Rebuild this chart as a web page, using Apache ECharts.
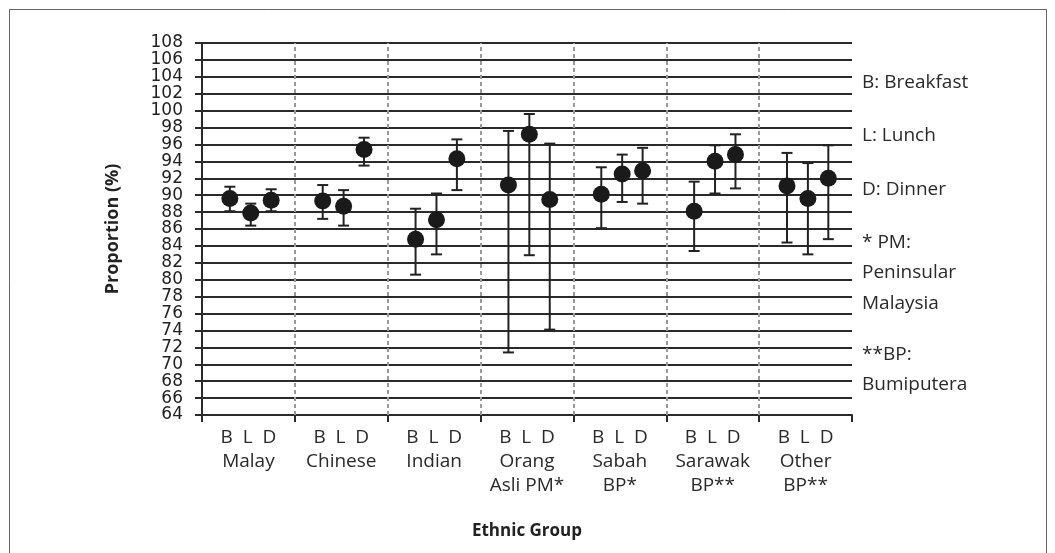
<!DOCTYPE html>
<html>
<head>
<meta charset="utf-8">
<style>
  html, body { margin: 0; padding: 0; background: #fff; }
  #chart { width: 1055px; height: 553px; }
</style>
<script src="https://cdn.jsdelivr.net/npm/echarts@6/dist/echarts.min.js"></script>
</head>
<body>
<div id="chart"></div>
<script>
var groups = ['Malay', 'Chinese', 'Indian', 'Orang\nAsli PM*', 'Sabah\nBP*', 'Sarawak\nBP**', 'Other\nBP**'];

var breakfast = [89.6, 89.3, 84.8, 91.2, 90.1, 88.1, 91.1];
var breakfastLow = [88.1, 87.2, 80.6, 71.4, 86.1, 83.4, 84.4];
var breakfastHigh = [91.0, 91.2, 88.4, 97.6, 93.3, 91.6, 95.0];

var lunch = [87.9, 88.7, 87.1, 97.2, 92.5, 94.0, 89.6];
var lunchLow = [86.4, 86.4, 83.0, 82.9, 89.2, 90.2, 83.0];
var lunchHigh = [89.0, 90.6, 90.2, 99.6, 94.8, 95.9, 93.8];

var dinner = [89.4, 95.4, 94.3, 89.5, 92.9, 94.8, 92.0];
var dinnerLow = [88.1, 93.5, 90.6, 74.1, 89.0, 90.8, 84.8];
var dinnerHigh = [90.7, 96.8, 96.6, 96.1, 95.6, 97.2, 95.9];

var notes = ['B: Breakfast', 'L: Lunch', 'D: Dinner', '* PM:', 'Peninsular', 'Malaysia', '**BP:', 'Bumiputera'];

var dom = document.getElementById('chart');
var myChart = echarts.init(dom, null, { renderer: 'canvas' });

// position of B, L, D inside each group (group width = 1)
var offsets = [0.30, 0.525, 0.745];
var meals = [
  [breakfast, breakfastLow, breakfastHigh],
  [lunch, lunchLow, lunchHigh],
  [dinner, dinnerLow, dinnerHigh]
];

var dots = [];
var bars = [];
meals.forEach(function (m, k) {
  groups.forEach(function (g, i) {
    dots.push([i + offsets[k], m[0][i]]);
    bars.push([i + offsets[k], m[1][i], m[2][i]]);
  });
});

function renderBar(params, api) {
  var x = api.value(0);
  var lo = api.coord([x, api.value(1)]);
  var hi = api.coord([x, api.value(2)]);
  var w = 5.5;
  var st = { stroke: '#222', lineWidth: 2 };
  return {
    type: 'group',
    children: [
      { type: 'line', shape: { x1: lo[0], y1: lo[1], x2: hi[0], y2: hi[1] }, style: st },
      { type: 'line', shape: { x1: lo[0] - w, y1: lo[1], x2: lo[0] + w, y2: lo[1] }, style: st },
      { type: 'line', shape: { x1: hi[0] - w, y1: hi[1], x2: hi[0] + w, y2: hi[1] }, style: st }
    ]
  };
}

// legend notes on the right
var noteY = [83, 136, 190, 243, 273, 304, 355, 385];
var noteGraphics = notes.map(function (t, i) {
  return {
    type: 'text',
    x: 862,
    y: noteY[i],
    style: { text: t, font: '19px "Open Sans"', fill: '#2a2a2a', verticalAlign: 'middle' }
  };
});
noteGraphics.push({
  type: 'rect',
  shape: { x: 9.5, y: 9.5, width: 1037, height: 570 },
  style: { fill: 'none', stroke: '#666', lineWidth: 1 },
  silent: true
});

var option = {
  animation: false,
  backgroundColor: '#fff',
  grid: { left: 202, right: 203, top: 43, bottom: 138 },
  xAxis: [
    {
      type: 'value',
      min: 0,
      max: 7,
      interval: 1,
      axisLine: { show: true, lineStyle: { color: '#2a2a2a', width: 2 } },
      axisTick: { show: true, length: 7, lineStyle: { color: '#2a2a2a', width: 2 } },
      axisLabel: { show: false },
      splitLine: { show: false },
      name: 'Ethnic Group',
      nameLocation: 'middle',
      nameGap: 108,
      nameTextStyle: { fontFamily: 'Open Sans', fontWeight: 'bold', fontSize: 17, color: '#222' }
    },
    {
      type: 'category',
      position: 'bottom',
      data: groups,
      axisLine: { show: false },
      axisTick: { show: false },
      axisLabel: {
        margin: 11,
        interval: 0,
        fontFamily: 'Open Sans',
        fontSize: 19,
        color: '#2a2a2a',
        lineHeight: 24,
        formatter: function (v) {
          return 'B  L  D\n' + v;
        }
      }
    }
  ],
  yAxis: {
    type: 'value',
    min: 64,
    max: 108,
    interval: 2,
    axisLine: { show: true, lineStyle: { color: '#2a2a2a', width: 2 } },
    axisTick: { show: true, length: 7, lineStyle: { color: '#2a2a2a', width: 2 } },
    axisLabel: {
      margin: 19,
      fontFamily: 'DejaVu Sans',
      fontSize: 17,
      color: '#222'
    },
    splitLine: { show: true, lineStyle: { color: '#2a2a2a', width: 2 } },
    name: 'Proportion (%)',
    nameLocation: 'middle',
    nameGap: 80,
    nameTextStyle: { fontFamily: 'Open Sans', fontWeight: 'bold', fontSize: 18, color: '#222' }
  },
  graphic: noteGraphics,
  series: [
    {
      type: 'custom',
      xAxisIndex: 0,
      renderItem: renderBar,
      data: bars,
      silent: true,
      z: 3,
      markLine: {
        silent: true,
        symbol: 'none',
        label: { show: false },
        lineStyle: { color: '#999', type: [4, 3], width: 2 },
        data: [1, 2, 3, 4, 5, 6].map(function (v) { return { xAxis: v }; })
      }
    },
    {
      type: 'scatter',
      xAxisIndex: 0,
      data: dots,
      symbol: 'circle',
      symbolSize: 17,
      itemStyle: { color: '#1a1a1a', opacity: 1 },
      z: 4
    }
  ]
};

if (option && typeof option === 'object') {
  myChart.setOption(option);
}

window.addEventListener('resize', myChart.resize);
</script>
</body>
</html>
